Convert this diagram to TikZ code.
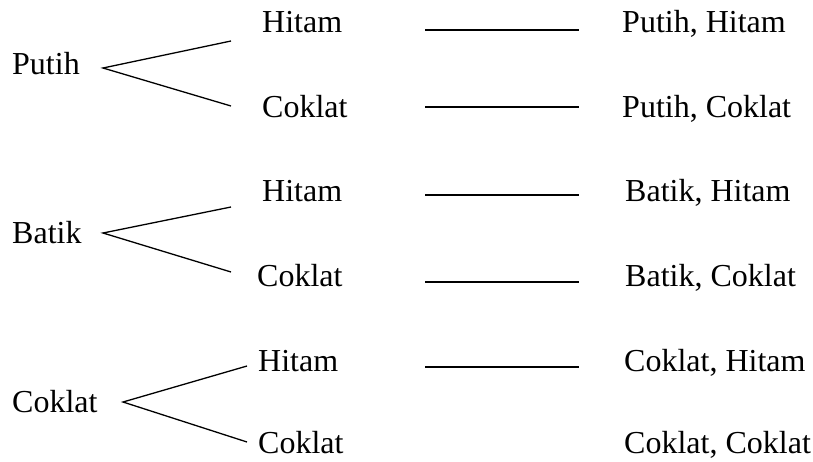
\documentclass[tikz,border=0pt]{standalone}
\usepackage{fontspec}
\setmainfont{Liberation Serif}
\begin{document}
\begin{tikzpicture}[x=1pt,y=-1pt,
  lbl/.style={anchor=base west,inner sep=0pt,font=\fontsize{32}{36}\selectfont},
  ln/.style={line width=1.3pt}]
\useasboundingbox (0,0) rectangle (813,461);
% Group 1: Putih
\node[lbl] (p) at (12,74) {Putih};
\node[lbl] (ph) at (262,32) {Hitam};
\node[lbl] (pc) at (262,117) {Coklat};
\node[lbl] (rph) at (622,32) {Putih, Hitam};
\node[lbl] (rpc) at (622,117) {Putih, Coklat};
\coordinate (pa) at (103,68);
\coordinate (pa1) at (231,41);
\coordinate (pa2) at (231,106);
\coordinate (pl1a) at (425,30); \coordinate (pl1b) at (579,30);
\coordinate (pl2a) at (425,107); \coordinate (pl2b) at (579,107);
\draw[ln] (pa1) -- (pa) -- (pa2);
\draw[ln] (pl1a) -- (pl1b);
\draw[ln] (pl2a) -- (pl2b);
% Group 2: Batik
\node[lbl] (b) at (12,243) {Batik};
\node[lbl] (bh) at (262,201) {Hitam};
\node[lbl] (bc) at (257,286) {Coklat};
\node[lbl] (rbh) at (625,201) {Batik, Hitam};
\node[lbl] (rbc) at (625,286) {Batik, Coklat};
\coordinate (ba) at (103,233);
\coordinate (ba1) at (231,207);
\coordinate (ba2) at (231,272);
\coordinate (bl1a) at (425,195); \coordinate (bl1b) at (579,195);
\coordinate (bl2a) at (425,282); \coordinate (bl2b) at (579,282);
\draw[ln] (ba1) -- (ba) -- (ba2);
\draw[ln] (bl1a) -- (bl1b);
\draw[ln] (bl2a) -- (bl2b);
% Group 3: Coklat
\node[lbl] (c) at (12,412) {Coklat};
\node[lbl] (ch) at (258,371) {Hitam};
\node[lbl] (cc) at (258,453) {Coklat};
\node[lbl] (rch) at (624,371) {Coklat, Hitam};
\node[lbl] (rcc) at (624,453) {Coklat, Coklat};
\coordinate (ca) at (123,402);
\coordinate (ca1) at (247,366);
\coordinate (ca2) at (247,442);
\coordinate (cl1a) at (425,367); \coordinate (cl1b) at (579,367);
\draw[ln] (ca1) -- (ca) -- (ca2);
\draw[ln] (cl1a) -- (cl1b);
\end{tikzpicture}
\end{document}
